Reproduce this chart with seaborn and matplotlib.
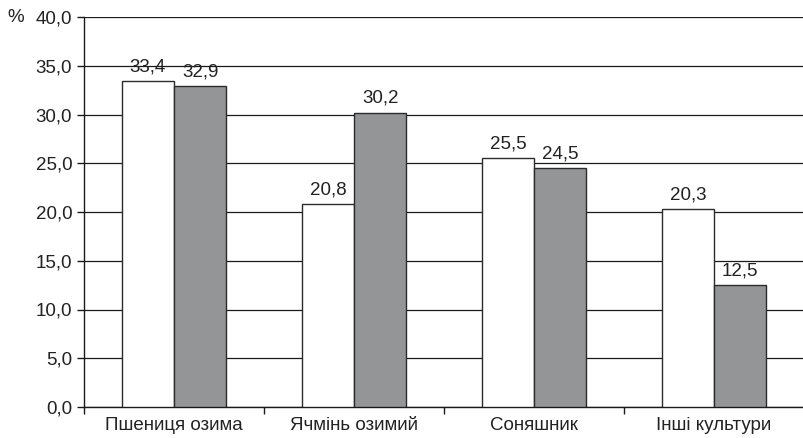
import matplotlib
matplotlib.use("Agg")
import matplotlib.pyplot as plt
import seaborn as sns
import pandas as pd
from matplotlib.ticker import FixedLocator, FuncFormatter

categories = ["Пшениця озима", "Ячмінь озимий", "Соняшник", "Інші культури"]
series_names = ["Ряд 1", "Ряд 2"]
values_1 = [33.4, 20.8, 25.5, 20.3]
values_2 = [32.9, 30.2, 24.5, 12.5]
y_ticks = [0, 5, 10, 15, 20, 25, 30, 35, 40]

df = pd.DataFrame({
    "cat": categories * 2,
    "series": [series_names[0]] * 4 + [series_names[1]] * 4,
    "val": values_1 + values_2,
})

sns.set_theme(style="white")
plt.rcParams["font.family"] = ["Liberation Sans", "DejaVu Sans"]

FS = 13.5
TXT = "#222222"

fig = plt.figure(figsize=(8.04, 4.38), dpi=100)
ax = fig.add_axes([84 / 804, 31 / 438, 720 / 804, 390 / 438])

sns.barplot(data=df, x="cat", y="val", hue="series", order=categories,
            hue_order=series_names, palette=["#ffffff", "#939598"],
            edgecolor="#2b2b2b", linewidth=1.0, width=0.58, legend=False,
            ax=ax, zorder=3)

for cont in ax.containers:
    ax.bar_label(cont, labels=[f"{v:.1f}".replace(".", ",") for v in cont.datavalues],
                 padding=4, fontsize=FS, color=TXT)

ax.set_ylim(0, 40)
ax.set_xlim(-0.5, 3.5)
ax.yaxis.set_major_locator(FixedLocator(y_ticks))
ax.yaxis.set_major_formatter(FuncFormatter(lambda v, p: f"{v:.1f}".replace(".", ",")))
ax.grid(axis="y", color="#1a1a1a", linewidth=0.9, zorder=0)
ax.set_axisbelow(True)

ax.set_xlabel("")
ax.set_ylabel("")
for s in ["top", "right"]:
    ax.spines[s].set_visible(False)
ax.spines["left"].set_color("#1a1a1a")
ax.spines["bottom"].set_color("#1a1a1a")
ax.spines["left"].set_linewidth(1.0)
ax.spines["bottom"].set_linewidth(1.0)

ax.tick_params(axis="y", which="major", left=True, length=5, width=1, color="#1a1a1a",
               labelsize=FS, labelcolor=TXT, pad=3.5)
ax.tick_params(axis="x", which="major", bottom=False, length=0, labelsize=FS,
               labelcolor=TXT, pad=7.5)
ax.xaxis.set_minor_locator(FixedLocator([-0.5, 0.5, 1.5, 2.5]))
ax.tick_params(axis="x", which="minor", bottom=True, length=5, width=1, color="#1a1a1a")

fig.text(7 / 804, 1 - 18 / 438, "%", fontsize=FS, color=TXT, va="center", ha="left")

fig.savefig("out.png", dpi=100)
